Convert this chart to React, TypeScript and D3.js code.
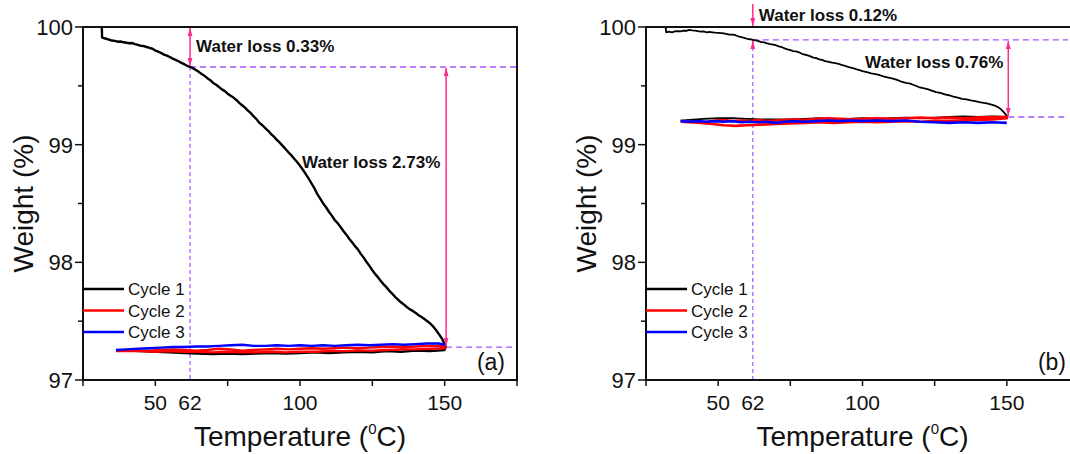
import React from 'react';
import * as d3 from 'd3';

type P = [number, number];

// ---------- Data (Temperature °C, Weight %) ----------
const aCycle1: P[] = [
  [31.5, 100.0], [31.6, 99.91], [33, 99.9], [34, 99.893], [35, 99.885], [36, 99.882], [37, 99.875], [38, 99.877], [39, 99.87], [40, 99.866], [41, 99.862], [42, 99.864], [43, 99.855],
  [44, 99.848], [45, 99.84], [46, 99.838], [47, 99.83], [48, 99.822], [49, 99.815], [50, 99.8], [51, 99.79], [52, 99.779], [53, 99.765], [54, 99.757], [55, 99.745], [56, 99.731], [57, 99.72], [58, 99.709], [59, 99.695],
  [60, 99.684], [61, 99.67], [62, 99.66], [63, 99.65], [64, 99.635], [65, 99.619], [66, 99.6], [67, 99.585], [68, 99.565], [69, 99.548], [70, 99.525], [71, 99.509], [72, 99.49], [73, 99.47], [74, 99.455],
  [75, 99.433], [76, 99.415], [77, 99.4], [78, 99.38], [79, 99.355], [80, 99.335], [81, 99.315], [82, 99.29], [83, 99.268], [84, 99.24], [85, 99.216], [86, 99.185], [87, 99.165], [88, 99.14], [89, 99.118], [90, 99.09],
  [91, 99.068], [92, 99.04], [93, 99.017], [94, 98.99], [95, 98.963], [96, 98.935], [97, 98.91], [98, 98.88], [99, 98.852], [100, 98.82], [101, 98.787], [102, 98.75], [103, 98.712], [104, 98.67], [105, 98.628], [106, 98.58],
  [107, 98.542], [108, 98.5], [109, 98.468], [110, 98.43], [111, 98.397], [112, 98.36], [113, 98.333], [114, 98.3], [115, 98.266], [116, 98.235], [117, 98.2], [118, 98.17], [119, 98.138], [120, 98.11], [121, 98.072], [122, 98.04],
  [123, 98.003], [124, 97.97], [125, 97.933], [126, 97.9], [127, 97.872], [128, 97.84], [129, 97.81], [130, 97.785], [131, 97.755], [132, 97.73], [133, 97.703], [134, 97.68], [135, 97.658], [136, 97.64], [137, 97.618], [138, 97.6],
  [139, 97.587], [140, 97.57], [141, 97.55], [142, 97.535], [143, 97.518], [144, 97.5], [145, 97.48], [146, 97.455], [147, 97.425], [148, 97.39], [149, 97.355], [149.5, 97.33], [150.3, 97.28],
  [150, 97.255], [145, 97.245], [140, 97.25], [135, 97.24], [130, 97.245], [125, 97.235], [120, 97.24],
  [115, 97.235], [110, 97.23], [105, 97.235], [100, 97.23], [95, 97.225], [90, 97.23], [85, 97.225], [80, 97.22],
  [75, 97.225], [70, 97.22], [65, 97.225], [60, 97.23], [55, 97.235], [50, 97.24], [45, 97.245], [40, 97.25], [36.5, 97.25],
];
const aCycle2: P[] = [
  [36.4, 97.245], [40, 97.25], [44, 97.245], [48, 97.25], [52, 97.255], [56, 97.26], [60, 97.255], [64, 97.25],
  [68, 97.255], [72, 97.265], [76, 97.26], [80, 97.25], [84, 97.255], [88, 97.26], [92, 97.265], [96, 97.26],
  [100, 97.265], [104, 97.27], [108, 97.265], [112, 97.27], [116, 97.275], [120, 97.27], [124, 97.275], [128, 97.28],
  [132, 97.285], [136, 97.28], [140, 97.285], [144, 97.29], [148, 97.29], [150, 97.285],
  [150, 97.27], [145, 97.265], [140, 97.26], [135, 97.26], [130, 97.255], [125, 97.25], [120, 97.25], [115, 97.245],
  [110, 97.245], [105, 97.24], [100, 97.24], [95, 97.235], [90, 97.24], [85, 97.235], [80, 97.235], [75, 97.24],
  [70, 97.235], [65, 97.24], [60, 97.24], [55, 97.245], [50, 97.24], [45, 97.245], [40, 97.245], [36.5, 97.245],
];
const aCycle3: P[] = [
  [36.4, 97.255], [40, 97.26], [44, 97.265], [48, 97.27], [52, 97.275], [56, 97.28], [60, 97.28], [64, 97.285],
  [68, 97.285], [72, 97.29], [76, 97.295], [80, 97.3], [84, 97.29], [88, 97.29], [92, 97.295], [96, 97.29],
  [100, 97.295], [104, 97.29], [108, 97.295], [112, 97.29], [116, 97.295], [120, 97.3], [124, 97.295], [128, 97.3],
  [132, 97.305], [136, 97.3], [140, 97.305], [144, 97.31], [148, 97.31], [150, 97.3],
];

const bCycle1: P[] = [
  [31.8, 100.0], [32, 99.955], [33, 99.96], [34, 99.955], [35, 99.962], [36, 99.965], [37, 99.963], [38, 99.97], [39, 99.968], [40, 99.975], [41, 99.972], [42, 99.97], [43, 99.964], [44, 99.96],
  [45, 99.962], [46, 99.955], [47, 99.958], [48, 99.955], [49, 99.952], [50, 99.95], [51, 99.948], [52, 99.945], [53, 99.94], [54, 99.935], [55, 99.936], [56, 99.93], [57, 99.921], [58, 99.915], [59, 99.908], [60, 99.9],
  [61, 99.896], [62, 99.89], [63, 99.887], [64, 99.88], [65, 99.872], [66, 99.87], [67, 99.86], [68, 99.855], [69, 99.851], [70, 99.845], [71, 99.836], [72, 99.83], [73, 99.818], [74, 99.81], [75, 99.803], [76, 99.795],
  [77, 99.792], [78, 99.785], [79, 99.772], [80, 99.765], [81, 99.758], [82, 99.75], [83, 99.74], [84, 99.735], [85, 99.725], [86, 99.72], [87, 99.71], [88, 99.705], [89, 99.7], [90, 99.695], [91, 99.69], [92, 99.685],
  [93, 99.675], [94, 99.67], [95, 99.662], [96, 99.655], [97, 99.648], [98, 99.64], [99, 99.633], [100, 99.625], [101.5, 99.617], [103, 99.605], [104.5, 99.6], [106, 99.59], [107.5, 99.578], [109, 99.57], [110.5, 99.562], [112, 99.55],
  [113.5, 99.535], [115, 99.525], [116.5, 99.518], [118, 99.505], [119.5, 99.49], [121, 99.48], [122.5, 99.472], [124, 99.46], [125.5, 99.447], [127, 99.44], [128.5, 99.428], [130, 99.42], [131.5, 99.408], [133, 99.4], [134.5, 99.39], [136, 99.385],
  [137.5, 99.376], [139, 99.37], [140.5, 99.362], [142, 99.355], [143, 99.352], [144, 99.345], [145, 99.338], [146, 99.33], [147, 99.318], [148, 99.3], [149, 99.275], [150, 99.245],
  [150, 99.235], [145, 99.24], [140, 99.235], [135, 99.24], [130, 99.235], [125, 99.23], [120, 99.225], [115, 99.23],
  [110, 99.225], [105, 99.22], [100, 99.225], [95, 99.22], [90, 99.22], [85, 99.225], [80, 99.22], [75, 99.215],
  [70, 99.215], [65, 99.215], [60, 99.22], [55, 99.225], [50, 99.225], [45, 99.22], [40, 99.21], [37, 99.205],
];
const bCycle2: P[] = [
  [37, 99.2], [40, 99.195], [43, 99.19], [46, 99.195], [49, 99.205], [52, 99.21], [55, 99.2], [58, 99.205],
  [61, 99.2], [64, 99.21], [67, 99.2], [70, 99.205], [73, 99.21], [76, 99.215], [80, 99.21], [84, 99.22],
  [88, 99.225], [92, 99.22], [96, 99.215], [100, 99.22], [105, 99.225], [110, 99.22], [115, 99.225], [120, 99.23],
  [125, 99.225], [130, 99.23], [135, 99.225], [140, 99.23], [145, 99.235], [150, 99.235],
  [150, 99.225], [145, 99.215], [140, 99.21], [135, 99.205], [130, 99.2], [125, 99.2], [120, 99.195], [115, 99.2],
  [110, 99.195], [105, 99.19], [100, 99.195], [95, 99.19], [90, 99.185], [85, 99.19], [80, 99.185], [75, 99.18],
  [70, 99.175], [65, 99.17], [60, 99.165], [56, 99.16], [52, 99.165], [48, 99.175], [44, 99.185], [40, 99.19], [37, 99.195],
];
const bCycle3: P[] = [
  [37, 99.2], [40, 99.195], [43, 99.2], [46, 99.195], [49, 99.2], [52, 99.195], [55, 99.2], [58, 99.19],
  [61, 99.195], [64, 99.19], [67, 99.195], [70, 99.185], [73, 99.195], [76, 99.2], [80, 99.195], [84, 99.2],
  [88, 99.205], [92, 99.2], [96, 99.205], [100, 99.2], [105, 99.205], [110, 99.2], [115, 99.205], [120, 99.195],
  [125, 99.19], [130, 99.185], [135, 99.19], [140, 99.185], [145, 99.19], [150, 99.185],
];

const seriesNames = ['Cycle 1', 'Cycle 2', 'Cycle 3'];
const seriesColors = ['#000000', '#ff0000', '#0000ff'];
const xTicks = [25, 50, 75, 100, 125, 150, 175];
const xLabels = [50, 62, 100, 150];
const yTicks = [97, 98, 99, 100];
const yMinor = [97.5, 98.5, 99.5];
const xDomain: [number, number] = [25, 175];
const yDomain: [number, number] = [97, 100];

const PINK = '#ff2a8f';
const PURPLE = '#a455ff';
const FONT = 'Liberation Sans, Arial, sans-serif';

type Ann = {
  markT: number; markW: number; endT: number; endW: number;
  text1: string; text2: string;
};
const annA: Ann = { markT: 62, markW: 99.66, endT: 150.5, endW: 97.28, text1: 'Water loss 0.33%', text2: 'Water loss 2.73%' };
const annB: Ann = { markT: 62, markW: 99.89, endT: 150.5, endW: 99.235, text1: 'Water loss 0.12%', text2: 'Water loss 0.76%' };

type PanelProps = {
  left: number; right: number; top: number; bottom: number;
  series: P[][]; widths: number[]; ann: Ann; tag: string; variant: 'a' | 'b';
};

function Panel({ left, right, top, bottom, series, widths, ann, tag, variant }: PanelProps) {
  const x = d3.scaleLinear().domain(xDomain).range([left, right]);
  const y = d3.scaleLinear().domain(yDomain).range([bottom, top]);
  const line = d3.line<P>().x(d => x(d[0])).y(d => y(d[1]));
  const visRight = Math.min(right, 1068);
  const mx = x(ann.markT), my = y(ann.markW);
  const ex = x(ann.endT), ey = y(ann.endW);
  const titleX = (x(25) + x(175)) / 2;
  return (
    <g>
      {/* dashed guides */}
      <line x1={mx} x2={mx} y1={my} y2={bottom} stroke={PURPLE} strokeWidth={1.2} strokeDasharray="4,3" />
      <line x1={mx} x2={visRight} y1={my} y2={my} stroke={PURPLE} strokeWidth={1.3} strokeDasharray="6,4" />
      <line x1={ex} x2={visRight} y1={ey} y2={ey} stroke={PURPLE} strokeWidth={1.3} strokeDasharray="6,4" />
      {/* series */}
      {series.map((s, i) => (
        <path key={i} d={line(s) || ''} fill="none" stroke={seriesColors[i]} strokeWidth={widths[i]} strokeLinejoin="round" />
      ))}
      {/* arrows */}
      {variant === 'a' ? (
        <line x1={mx} x2={mx} y1={top + 1} y2={my - 1} stroke={PINK} strokeWidth={1.5} markerStart="url(#ah)" markerEnd="url(#ah)" />
      ) : (
        <g>
          <line x1={mx} x2={mx} y1={4} y2={top - 1} stroke={PINK} strokeWidth={1.5} markerEnd="url(#ah)" />
          <line x1={mx} x2={mx} y1={my + 9} y2={my + 1} stroke={PINK} strokeWidth={1.5} markerEnd="url(#ah)" />
        </g>
      )}
      <line x1={ex} x2={ex} y1={my + 1} y2={ey - 1} stroke={PINK} strokeWidth={1.5} markerStart="url(#ah)" markerEnd="url(#ah)" />
      {/* annotation texts */}
      <g fontFamily={FONT} fontWeight="bold" fontSize={17} fill="#111">
        {variant === 'a' ? (
          <>
            <text x={mx + 6} y={52}>{ann.text1}</text>
            <text x={302} y={168}>{ann.text2}</text>
          </>
        ) : (
          <>
            <text x={mx + 6} y={21}>{ann.text1}</text>
            <text x={865} y={68}>{ann.text2}</text>
          </>
        )}
      </g>
      {/* frame */}
      <rect x={left} y={top} width={right - left} height={bottom - top} fill="none" stroke="#111" strokeWidth={2} />
      {/* y ticks */}
      {yTicks.map(t => (
        <g key={t}>
          <line x1={left - 8} x2={left} y1={y(t)} y2={y(t)} stroke="#111" strokeWidth={1.5} />
          <text x={left - 10} y={y(t)} dy="0.36em" textAnchor="end" fontFamily={FONT} fontSize={22} fill="#111">{t}</text>
        </g>
      ))}
      {yMinor.map(t => (
        <line key={t} x1={left - 5} x2={left} y1={y(t)} y2={y(t)} stroke="#111" strokeWidth={1.5} />
      ))}
      {/* x ticks */}
      {xTicks.map(t => (
        <line key={t} x1={x(t)} x2={x(t)} y1={bottom} y2={bottom + 6} stroke="#111" strokeWidth={1.5} />
      ))}
      {xLabels.map(t => (
        <text key={t} x={x(t)} y={410} textAnchor="middle" fontFamily={FONT} fontSize={21} fill="#111">{t}</text>
      ))}
      {/* axis titles */}
      <text x={titleX} y={446} textAnchor="middle" fontFamily={FONT} fontSize={28} fill="#111">
        Temperature (<tspan fontSize={15} dy={-12}>0</tspan><tspan dy={12}>C)</tspan>
      </text>
      <text transform={`translate(${left - 50},${(top + bottom) / 2}) rotate(-90)`} textAnchor="middle" fontFamily={FONT} fontSize={28} fill="#111">
        Weight (%)
      </text>
      {/* legend */}
      {seriesNames.map((n, i) => (
        <g key={n}>
          <line x1={left} x2={left + 41} y1={289 + i * 21.5} y2={289 + i * 21.5} stroke={seriesColors[i]} strokeWidth={2.5} />
          <text x={left + 45} y={289 + i * 21.5} dy="0.36em" fontFamily={FONT} fontSize={17} fill="#111">{n}</text>
        </g>
      ))}
      {/* panel tag */}
      <text x={visRight - 12 + (variant === 'a' ? 0 : 10)} y={370} textAnchor="end" fontFamily={FONT} fontSize={23} fill="#111">{tag}</text>
    </g>
  );
}

export default function App() {
  return (
    <div>
      <style>{`body{margin:0}`}</style>
      <svg width={1070} height={454} style={{ display: 'block', background: '#fff' }}>
        <defs>
          <marker id="ah" viewBox="0 0 10 6" refX="10" refY="3" markerWidth="8" markerHeight="5" markerUnits="userSpaceOnUse" orient="auto-start-reverse">
            <path d="M0,0 L10,3 L0,6 z" fill={PINK} />
          </marker>
        </defs>
        <Panel left={83} right={517} top={27} bottom={380} series={[aCycle1, aCycle2, aCycle3]} widths={[2.4, 2.4, 2.4]} ann={annA} tag="(a)" variant="a" />
        <Panel left={646} right={1079} top={27} bottom={380} series={[bCycle1, bCycle2, bCycle3]} widths={[1.8, 2.6, 2.6]} ann={annB} tag="(b)" variant="b" />
      </svg>
    </div>
  );
}
